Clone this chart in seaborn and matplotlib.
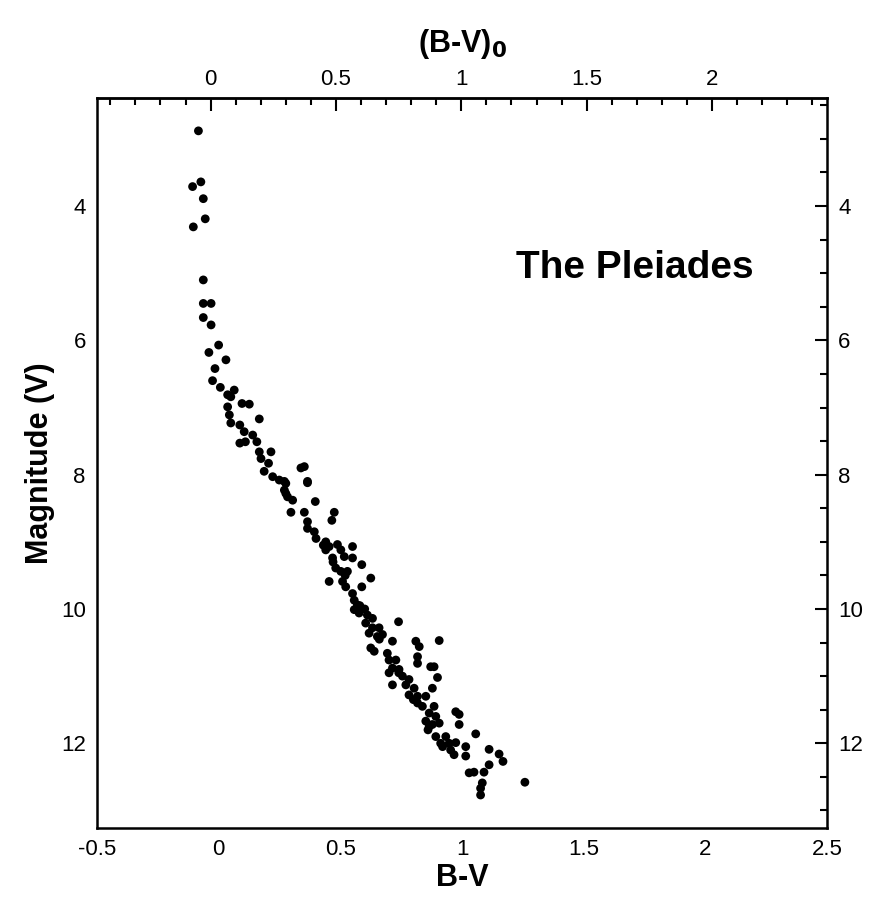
import numpy as np
import pandas as pd
import matplotlib
matplotlib.use("Agg")
import matplotlib.pyplot as plt
import seaborn as sns
from matplotlib.ticker import MultipleLocator

# B-V colour and V magnitude
bv = [-0.083, -0.107, -0.073, -0.063, -0.055, -0.104, -0.063, -0.063, -0.031, -0.063,
      -0.031, 0.0, -0.04, 0.03, -0.015, -0.025, 0.007, 0.037, 0.064, 0.05,
      0.096, 0.126, 0.037, 0.044, 0.167, 0.05, 0.087, 0.105, 0.14, 0.087,
      0.11, 0.157, 0.167, 0.215, 0.174, 0.205, 0.187, 0.222, 0.249, 0.27,
      0.338, 0.352, 0.365, 0.27, 0.283, 0.304, 0.397, 0.276, 0.276, 0.365,
      0.297, 0.352, 0.475, 0.465, 0.365, 0.365, 0.393, 0.40, 0.44, 0.454,
      0.44, 0.488, 0.502, 0.55, 0.468, 0.516, 0.55, 0.588, 0.481, 0.502,
      0.529, 0.625, 0.454, 0.509, 0.522, 0.588, 0.55, 0.557, 0.57, 0.557,
      0.577, 0.611, 0.632, 0.604, 0.739, 0.632, 0.659, 0.618, 0.652, 0.673,
      0.625, 0.639, 0.714, 0.81, 0.824, 0.906, 0.693, 0.70, 0.728, 0.817,
      0.817, 0.714, 0.741, 0.871, 0.885, 0.899, 0.70, 0.755, 0.782, 0.714,
      0.769, 0.803, 0.878, 0.782, 0.817, 0.851, 0.817, 0.837, 0.885, 0.865,
      0.892, 0.974, 0.988, 0.851, 0.878, 0.906, 0.988, 0.865, 0.892, 0.933,
      1.056, 0.912, 0.947, 0.974, 0.953, 1.015, 0.967, 1.015, 1.111, 1.152,
      1.168, 1.111, 1.029, 1.049, 1.09, 1.083, 1.076, 1.076, 1.258,
      0.43, 0.52, 0.60, 0.66, 0.74, 0.80, 0.86, 0.92, 0.47, 0.58]
vmag = [2.88, 3.71, 3.64, 3.89, 4.19, 4.31, 5.10, 5.45, 5.45, 5.66,
        5.77, 6.07, 6.18, 6.29, 6.42, 6.60, 6.70, 6.81, 6.74, 6.84,
        6.94, 6.95, 6.99, 7.11, 7.17, 7.23, 7.26, 7.36, 7.41, 7.53,
        7.51, 7.51, 7.66, 7.66, 7.76, 7.83, 7.95, 8.03, 8.08, 8.10,
        7.90, 7.88, 8.10, 8.23, 8.33, 8.38, 8.40, 8.13, 8.28, 8.12,
        8.56, 8.56, 8.56, 8.68, 8.70, 8.80, 8.85, 8.95, 9.00, 9.07,
        9.12, 9.04, 9.12, 9.07, 9.24, 9.22, 9.24, 9.34, 9.39, 9.44,
        9.44, 9.54, 9.59, 9.59, 9.67, 9.67, 9.77, 9.87, 9.94, 10.01,
        10.06, 10.09, 10.14, 10.21, 10.19, 10.28, 10.28, 10.36, 10.41, 10.38,
        10.58, 10.63, 10.48, 10.48, 10.56, 10.47, 10.66, 10.76, 10.76, 10.71,
        10.81, 10.88, 10.90, 10.86, 10.86, 11.02, 10.95, 11.00, 11.05, 11.13,
        11.13, 11.18, 11.18, 11.28, 11.30, 11.30, 11.40, 11.45, 11.45, 11.55,
        11.60, 11.53, 11.57, 11.67, 11.72, 11.70, 11.72, 11.75, 11.90, 11.90,
        11.86, 12.00, 12.00, 11.99, 12.10, 12.05, 12.17, 12.19, 12.09, 12.16,
        12.27, 12.32, 12.44, 12.43, 12.43, 12.59, 12.67, 12.77, 12.58,
        9.05, 9.50, 10.00, 10.45, 10.95, 11.35, 11.80, 12.05, 9.30, 9.95]

df = pd.DataFrame({"bv": bv, "v": vmag})

sns.set_style("white")
plt.rcParams['font.family'] = ['Liberation Sans', 'DejaVu Sans']
plt.rcParams['text.color'] = 'black'
plt.rcParams['axes.labelcolor'] = 'black'
plt.rcParams['xtick.color'] = 'black'
plt.rcParams['ytick.color'] = 'black'

fig = plt.figure(figsize=(8.81, 9.24), dpi=100)
ax = fig.add_axes([0.11, 0.104, 0.829, 0.79])
sns.scatterplot(data=df, x="bv", y="v", ax=ax, color="black", s=40,
                edgecolor="none", legend=False)

ax.set_xlim(-0.5, 2.5)
ax.set_ylim(13.26, 2.39)
ax.xaxis.set_minor_locator(MultipleLocator(0.1))
ax.yaxis.set_major_locator(MultipleLocator(2))
ax.yaxis.set_minor_locator(MultipleLocator(0.5))
ax.set_xticks([-0.5, 0, 0.5, 1, 1.5, 2, 2.5])
ax.set_xticklabels(["-0.5", "0", "0.5", "1", "1.5", "2", "2.5"])
ax.tick_params(which="both", direction="in", top=False, right=True,
               labelright=True, labelsize=16, width=1.5, pad=8)
ax.tick_params(which="major", length=9)
ax.tick_params(which="minor", length=5)
for sp in ax.spines.values():
    sp.set_linewidth(1.8)
    sp.set_color("black")

ax.set_xlabel("B-V", fontsize=22, fontweight="bold", labelpad=2)
ax.set_ylabel("Magnitude (V)", fontsize=22, fontweight="bold", labelpad=4)

# dereddened colour on the top axis
top = ax.secondary_xaxis("top", functions=(lambda b: 0.032 + 0.971 * b,
                                           lambda t: (t - 0.032) / 0.971))
top.xaxis.set_minor_locator(MultipleLocator(0.1))
top.set_xticks([0, 0.5, 1, 1.5, 2])
top.set_xticklabels(["0", "0.5", "1", "1.5", "2"])
top.tick_params(which="both", direction="in", labelsize=16, width=1.5, pad=6)
top.tick_params(which="major", length=9)
top.tick_params(which="minor", length=5)
top.spines["top"].set_linewidth(1.8)
top.set_xlabel(r"(B-V)$_{\mathbf{0}}$", fontsize=22, fontweight="bold", labelpad=12)

ax.text(0.737, 0.767, "The Pleiades", transform=ax.transAxes, ha="center",
        va="center", fontsize=28, fontweight="bold")

fig.savefig("out.png", dpi=100)
